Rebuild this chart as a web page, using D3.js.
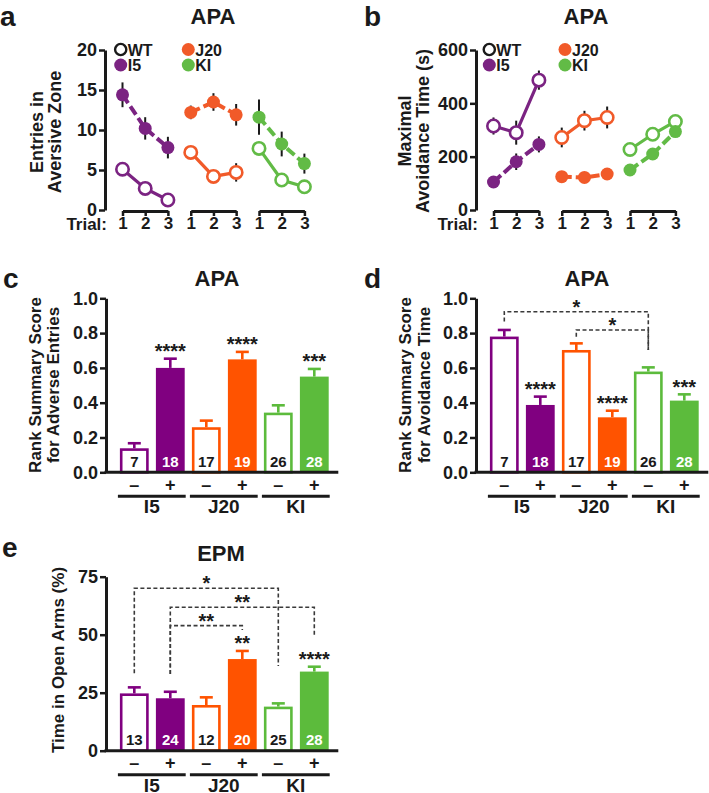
<!DOCTYPE html>
<html><head><meta charset="utf-8">
<script src="https://cdn.jsdelivr.net/npm/d3@7"></script>
<style>
body{margin:0;background:#fff;}
svg text{font-family:"Liberation Sans", Arial, Helvetica, sans-serif;font-weight:bold;fill:#1a1a1a;}
</style></head><body>
<svg id="fig" width="709" height="793"></svg>
<script>
const groups = ["I5", "J20", "KI"];
const trials = [1, 2, 3];
const genotypes = ["–", "+"];

// Panel a – entries in aversive zone (mean, SEM), rows = groups, cols = trials
const entriesWT    = [[5.1, 2.7, 1.25], [7.2, 4.2, 4.7], [7.7, 3.75, 2.9]];
const entriesWTErr = [[0.5, 0.5, 0.5], [0.6, 0.5, 1.15], [0.8, 0.6, 0.5]];
const entriesTg    = [[14.4, 10.2, 7.8], [12.2, 13.5, 11.9], [11.6, 8.25, 5.8]];
const entriesTgErr = [[1.55, 1.4, 1.35], [0.85, 1.1, 1.35], [2.2, 1.55, 1.25]];
const entriesTicks = [0, 5, 10, 15, 20];

// Panel b – maximal avoidance time (s)
const avoidWT    = [[315, 290, 487], [272, 335, 347], [227, 284, 332]];
const avoidWTErr = [[32, 45, 36], [37, 37, 41], [15, 15, 15]];
const avoidTg    = [[105, 181, 246], [125, 122, 135], [150, 210, 294]];
const avoidTgErr = [[12, 31, 30], [10, 10, 10], [10, 12, 12]];
const avoidTicks = [0, 200, 400, 600];

// Panel c – rank summary score, adverse entries (bars: I5-, I5+, J20-, J20+, KI-, KI+)
const entriesRank    = [0.138, 0.600, 0.259, 0.649, 0.343, 0.550];
const entriesRankErr = [0.029, 0.053, 0.038, 0.043, 0.042, 0.044];
const entriesRankN   = [7, 18, 17, 19, 26, 28];
const entriesRankSig = ["", "****", "", "****", "", "***"];
const rankTicks = [0, 0.2, 0.4, 0.6, 0.8, 1.0];

// Panel d – rank summary score, avoidance time
const avoidRank    = [0.780, 0.387, 0.703, 0.316, 0.579, 0.412];
const avoidRankErr = [0.038, 0.048, 0.038, 0.038, 0.024, 0.036];
const avoidRankN   = [7, 18, 17, 19, 26, 28];
const avoidRankSig = ["", "****", "", "****", "", "***"];
const avoidRankBrackets = [
  {from: 0, to: 4, top: 0.923, left: 0.866, right: 0.703, label: "*"},
  {from: 2, to: 4, top: 0.818, left: 0.779, right: 0.703, label: "*"}
];

// Panel e – EPM time in open arms (%)
const openArms    = [24.7, 22.6, 19.7, 39.5, 19.0, 34.1];
const openArmsErr = [2.6, 2.8, 3.3, 3.5, 1.4, 2.1];
const openArmsN   = [13, 24, 12, 20, 25, 28];
const openArmsSig = ["", "", "", "**", "", "****"];
const openArmsTicks = [0, 25, 50, 75];
const openArmsBrackets = [
  {from: 0, to: 4, top: 70, left: 33.4, right: 36.5, label: "*"},
  {from: 1, to: 5, top: 61.8, left: 33.1, right: 49.1, label: "**"},
  {from: 1, to: 3, top: 53.9, left: 33.1, right: 52, label: "**"}
];

const lineColors = {I5: "#7B2382", J20: "#F15A29", KI: "#62BB46"};
const barColors  = {I5: "#800080", J20: "#FF5300", KI: "#5CBB3C"};
const ink = "#1a1a1a";

const svg = d3.select("#fig");

function txt(t, x, y, size, anchor, color) {
  return svg.append("text").attr("x", x).attr("y", y)
    .attr("text-anchor", anchor || "start")
    .style("font-size", size + "px").style("fill", color || ink).text(t);
}
function styleAxis(g, fs) {
  g.select(".domain").attr("stroke", ink).attr("stroke-width", 3);
  g.selectAll(".tick line").attr("stroke", ink).attr("stroke-width", 2.5);
  g.selectAll(".tick text").style("font-size", fs + "px").attr("fill", ink);
  g.attr("font-family", null).attr("font-size", null);
}
function yTitle(lines, xs, cy, fs) {
  lines.forEach((l, i) => {
    svg.append("text").attr("transform", `translate(${xs[i]},${cy}) rotate(-90)`)
      .attr("text-anchor", "middle").style("font-size", fs + "px").text(l);
  });
}

function linePanel(o) {
  const y = d3.scaleLinear().domain([0, o.ticks[o.ticks.length - 1]]).range([o.bottom, o.top]);
  const gx = d3.scalePoint().domain(groups).range([o.axisX + 17.5, o.axisX + 17.5 + 136.5]);
  const tx = d3.scalePoint().domain(trials).range([0, 45.4]);
  const X = (g, t) => gx(g) + tx(t);

  const ya = svg.append("g").attr("transform", `translate(${o.axisX},0)`)
    .call(d3.axisLeft(y).tickValues(o.ticks).tickSize(6).tickSizeOuter(0).tickPadding(2).tickFormat(d3.format("d")));
  styleAxis(ya, 18);

  groups.forEach(g => {
    const s = d3.scalePoint().domain(trials).range([X(g, 1), X(g, 3)]);
    const xa = svg.append("g").attr("transform", `translate(0,${o.bottom + 1})`)
      .call(d3.axisBottom(s).tickSize(5).tickSizeOuter(0).tickPadding(1));
    styleAxis(xa, 17);
  });
  txt("Trial:", o.axisX + 2, o.bottom + 20, 17, "end");

  const series = [];
  groups.forEach((g, gi) => {
    series.push({g, filled: false, pts: trials.map((t, ti) => ({x: X(g, t), v: o.wt[gi][ti], e: o.wtErr[gi][ti]}))});
  });
  groups.forEach((g, gi) => {
    series.push({g, filled: true, pts: trials.map((t, ti) => ({x: X(g, t), v: o.tg[gi][ti], e: o.tgErr[gi][ti]}))});
  });
  series.forEach(s => {
    svg.append("g").selectAll("line").data(s.pts).join("line")
      .attr("x1", d => d.x).attr("x2", d => d.x)
      .attr("y1", d => y(d.v - d.e)).attr("y2", d => y(d.v + d.e))
      .attr("stroke", ink).attr("stroke-width", 2);
  });
  const line = d3.line().x(d => d.x).y(d => y(d.v));
  series.forEach(s => {
    const c = lineColors[s.g];
    svg.append("path").datum(s.pts).attr("d", line).attr("fill", "none")
      .attr("stroke", c).attr("stroke-width", s.filled ? 4 : 3.2)
      .attr("stroke-dasharray", s.filled ? "10,4" : null);
    svg.append("g").selectAll("circle").data(s.pts).join("circle")
      .attr("cx", d => d.x).attr("cy", d => y(d.v))
      .attr("r", s.filled ? 6.5 : 6.2)
      .attr("fill", s.filled ? c : "#fff")
      .attr("stroke", s.filled ? "none" : c).attr("stroke-width", 2.6);
  });

  // legend
  const leg = [
    {label: "WT", open: true, color: ink, x: o.legX[0], y: o.legY[0]},
    {label: "I5", color: lineColors.I5, x: o.legX[0], y: o.legY[1]},
    {label: "J20", color: lineColors.J20, x: o.legX[1], y: o.legY[0]},
    {label: "KI", color: lineColors.KI, x: o.legX[1], y: o.legY[1]}
  ];
  leg.forEach(d => {
    svg.append("circle").attr("cx", d.x).attr("cy", d.y).attr("r", d.open ? 5.6 : 6.5)
      .attr("fill", d.open ? "#fff" : d.color).attr("stroke", d.open ? d.color : "none").attr("stroke-width", 2.4);
    txt(d.label, d.x + 7, d.y + 6, 16);
  });
  yTitle(o.titleLines, o.titleXs, o.titleCY, 18);
}

function barPanel(o) {
  const bars = groups.flatMap(g => genotypes.map(s => ({g, s, key: g + s})));
  bars.forEach((b, i) => { b.v = o.vals[i]; b.e = o.errs[i]; b.n = o.ns[i]; b.sig = o.sig[i]; b.filled = b.s === "+"; });
  const x = d3.scaleBand().domain(bars.map(b => b.key))
    .range([o.axisX + 10.3, o.axisX + 226.3]).paddingInner(0.2).paddingOuter(0.1);
  const bw = x.bandwidth();
  const cx = i => x(bars[i].key) + bw / 2;
  const y = d3.scaleLinear().domain([0, o.ticks[o.ticks.length - 1]]).range([o.bottom, o.top]);

  bars.forEach(b => {
    const c = barColors[b.g];
    if (b.filled) {
      svg.append("rect").attr("x", x(b.key)).attr("width", bw)
        .attr("y", y(b.v)).attr("height", o.bottom - y(b.v)).attr("fill", c);
    } else {
      svg.append("rect").attr("x", x(b.key) + 1.3).attr("width", bw - 2.6)
        .attr("y", y(b.v) + 1.3).attr("height", o.bottom - y(b.v) - 1.3)
        .attr("fill", "#fff").attr("stroke", c).attr("stroke-width", 2.6);
    }
    const mx = x(b.key) + bw / 2;
    svg.append("line").attr("x1", mx).attr("x2", mx).attr("y1", y(b.v)).attr("y2", y(b.v + b.e))
      .attr("stroke", c).attr("stroke-width", 2.6);
    svg.append("line").attr("x1", mx - 6.5).attr("x2", mx + 6.5).attr("y1", y(b.v + b.e)).attr("y2", y(b.v + b.e))
      .attr("stroke", c).attr("stroke-width", 2.6);
    txt(b.n, mx, o.bottom - 5.5, 15, "middle", b.filled ? "#fff" : ink);
    if (b.sig) txt(b.sig, mx, y(b.v + b.e) - 0.5, 20, "middle");
    txt(b.s, mx, o.bottom + 18.5, 18, "middle");
  });

  (o.brackets || []).forEach(br => {
    const x1 = cx(br.from), x2 = cx(br.to);
    const p = d3.path();
    p.moveTo(x1, y(br.left)); p.lineTo(x1, y(br.top)); p.lineTo(x2, y(br.top)); p.lineTo(x2, y(br.right));
    svg.append("path").attr("d", p.toString()).attr("fill", "none")
      .attr("stroke", "#3a3a3a").attr("stroke-width", 1.6).attr("stroke-dasharray", "4,2.5");
    txt(br.label, (x1 + x2) / 2, y(br.top) + 2, 20, "middle");
  });

  const ya = svg.append("g").attr("transform", `translate(${o.axisX},0)`)
    .call(d3.axisLeft(y).tickValues(o.ticks).tickSize(6).tickSizeOuter(0).tickPadding(2).tickFormat(o.fmt));
  styleAxis(ya, 18);
  svg.append("line").attr("x1", o.axisX - 1.5).attr("x2", x.range()[1] + 6)
    .attr("y1", o.bottom).attr("y2", o.bottom).attr("stroke", ink).attr("stroke-width", 3);

  groups.forEach(g => {
    const a = x(g + genotypes[0]) - 2, b = x(g + genotypes[1]) + bw + 1;
    svg.append("line").attr("x1", a).attr("x2", b).attr("y1", o.bottom + 24).attr("y2", o.bottom + 24)
      .attr("stroke", ink).attr("stroke-width", 3);
    txt(g, (a + b) / 2, o.bottom + 41, 19, "middle");
  });
  yTitle(o.titleLines, o.titleXs, o.titleCY, 17);
}

// panel letters & titles
txt("a", 0, 26, 28); txt("b", 364, 26, 28);
txt("c", 3, 288, 28); txt("d", 364, 288, 28);
txt("e", 2, 557, 28);
txt("APA", 213, 24, 22, "middle"); txt("APA", 586, 24, 22, "middle");
txt("APA", 217, 286, 22, "middle"); txt("APA", 587, 286, 22, "middle");
txt("EPM", 221, 561, 22, "middle");

linePanel({axisX: 105, top: 50, bottom: 210, ticks: entriesTicks,
  wt: entriesWT, wtErr: entriesWTErr, tg: entriesTg, tgErr: entriesTgErr,
  legX: [120.7, 188.3], legY: [49.5, 65],
  titleLines: ["Entries in", "Aversive Zone"], titleXs: [43, 61], titleCY: 132});

linePanel({axisX: 476, top: 50, bottom: 210, ticks: avoidTicks,
  wt: avoidWT, wtErr: avoidWTErr, tg: avoidTg, tgErr: avoidTgErr,
  legX: [489.3, 565], legY: [49.5, 65],
  titleLines: ["Maximal", "Avoidance Time (s)"], titleXs: [411, 429], titleCY: 131});

barPanel({axisX: 106, top: 298.3, bottom: 472.3, ticks: rankTicks, fmt: d3.format(".1f"),
  vals: entriesRank, errs: entriesRankErr, ns: entriesRankN, sig: entriesRankSig,
  titleLines: ["Rank Summary Score", "for Adverse Entries"], titleXs: [41, 59], titleCY: 385});

barPanel({axisX: 476, top: 298.3, bottom: 472.3, ticks: rankTicks, fmt: d3.format(".1f"),
  vals: avoidRank, errs: avoidRankErr, ns: avoidRankN, sig: avoidRankSig, brackets: avoidRankBrackets,
  titleLines: ["Rank Summary Score", "for Avoidance Time"], titleXs: [411, 430], titleCY: 385});

barPanel({axisX: 106, top: 576.7, bottom: 750.7, ticks: openArmsTicks, fmt: d3.format("d"),
  vals: openArms, errs: openArmsErr, ns: openArmsN, sig: openArmsSig, brackets: openArmsBrackets,
  titleLines: ["Time in Open Arms (%)"], titleXs: [64], titleCY: 660});
</script>
</body></html>
